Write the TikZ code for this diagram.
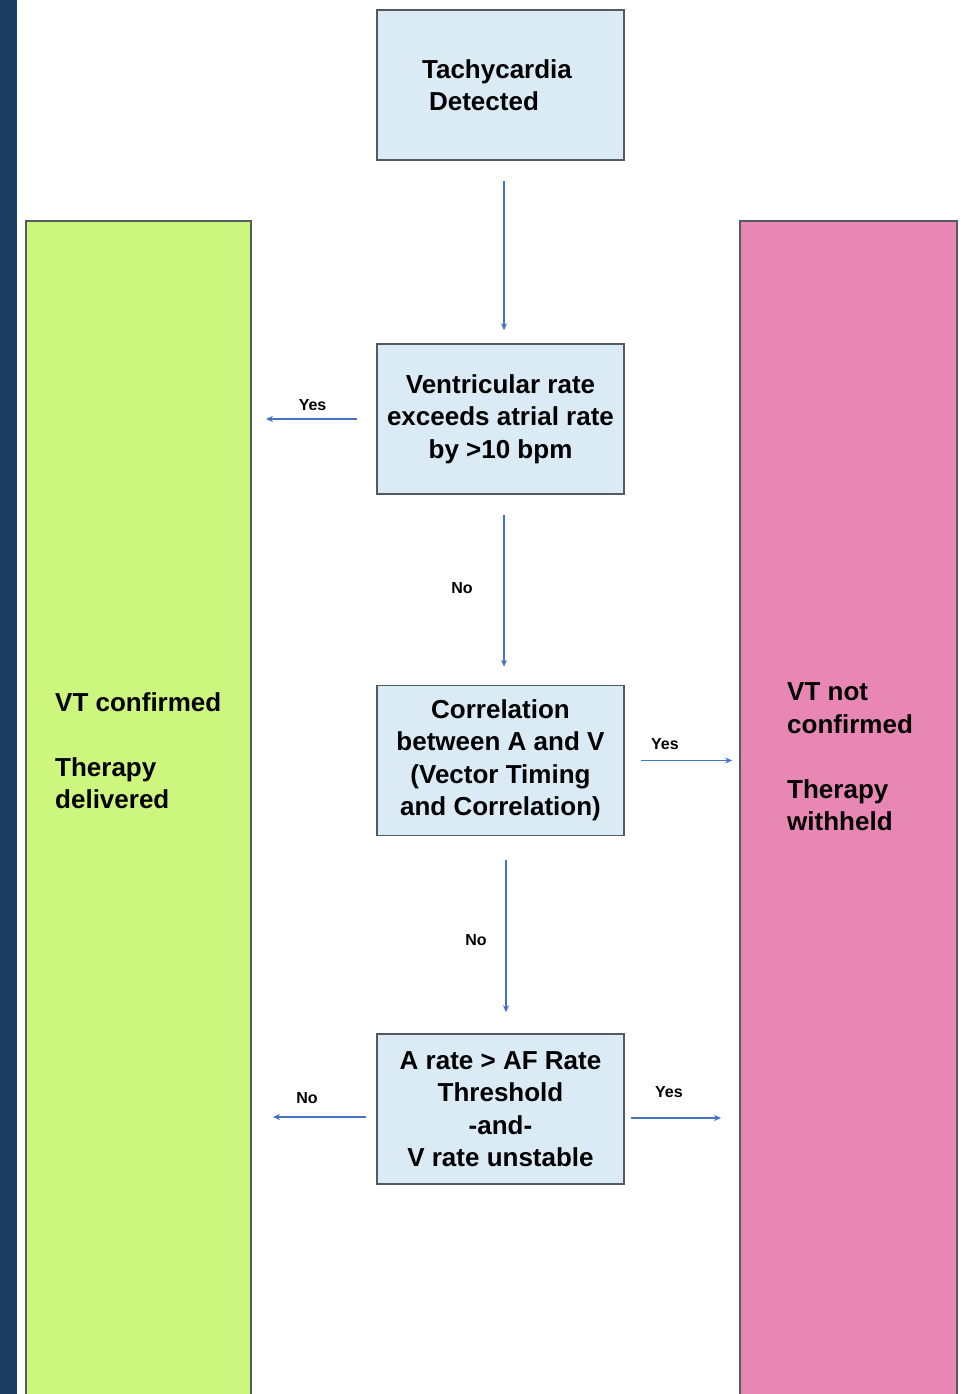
\documentclass[tikz,border=0pt]{standalone}
\usepackage{fontspec}
\setmainfont{Liberation Sans}
\usetikzlibrary{arrows.meta}
\definecolor{boxblue}{RGB}{218,235,246}
\definecolor{boxline}{RGB}{85,90,95}
\definecolor{vtgreen}{RGB}{205,246,127}
\definecolor{vtpink}{RGB}{232,135,180}
\definecolor{strip}{RGB}{26,62,98}
\definecolor{arrblue}{RGB}{68,114,196}
\begin{document}
\begin{tikzpicture}[x=1pt,y=-1pt,
  stepbox/.style={draw=boxline, line width=1.5pt, fill=boxblue, minimum width=247pt,
    minimum height=150pt, inner sep=0pt, align=center,
    font=\bfseries\fontsize{26}{32.5}\selectfont},
  sidebox/.style={draw=boxline, line width=1.8pt, inner sep=0pt},
  sidetext/.style={anchor=west, align=left, inner sep=0pt,
    font=\bfseries\fontsize{26}{32.5}\selectfont},
  arr/.style={draw=arrblue, line width=1.3pt, -{Stealth[length=7pt,width=6pt]}},
  lbl/.style={font=\bfseries\fontsize{16}{18}\selectfont, inner sep=0pt}]
\useasboundingbox (0,0) rectangle (963,1394);
\clip (0,0) rectangle (963,1394);
\fill[white] (0,0) rectangle (963,1394);
\fill[strip] (0,0) rectangle (17,1394);

\node[sidebox, fill=vtgreen, minimum width=225pt, minimum height=1178pt] (conf) at (138.5,810) {};
\node[sidebox, fill=vtpink, minimum width=217pt, minimum height=1178pt] (nconf) at (848.5,810) {};
\node[sidetext] (conft) at (55,750.5) {VT confirmed\\[32.5pt]Therapy\\delivered};
\node[sidetext] (nconft) at (787,757) {VT not\\confirmed\\[32.5pt]Therapy\\withheld};

\node[stepbox] (t) at (500.5,85) {Tachycardia\hspace*{7pt}\\Detected\hspace*{33pt}};
\node[stepbox] (b2) at (500.5,419) {Ventricular rate\\exceeds atrial rate\\by >10 bpm};
\node[stepbox] (b3) at (500.5,760.5) {Correlation\\between A and V\\(Vector Timing\\and Correlation)};
\node[stepbox] (b4) at (500.5,1109) {A rate > AF Rate\\Threshold\\-and-\\V rate unstable};

\draw[arr, shorten <=20pt, shorten >=13pt] ([xshift=3.5pt]t.south) -- ([xshift=3.5pt]b2.north);
\draw[arr, shorten <=20pt, shorten >=18pt] ([xshift=3.5pt]b2.south) -- ([xshift=3.5pt]b3.north)
  node[lbl, midway, xshift=-42pt, yshift=2pt] {No};
\draw[arr, shorten <=24pt, shorten >=21pt] ([xshift=5.5pt]b3.south) -- ([xshift=5.5pt]b4.north)
  node[lbl, midway, xshift=-30pt, yshift=-5pt] {No};

\draw[arr, shorten <=19pt, shorten >=14pt] (b2.west) -- (b2.west -| conf.east)
  node[lbl, midway, xshift=-1.5pt, yshift=14pt] {Yes};
\draw[arr, shorten <=16pt, shorten >=7pt] (b3.east) -- (b3.east -| nconf.west)
  node[lbl, midway, xshift=-17pt, yshift=16pt] {Yes};
\draw[arr, shorten <=10pt, shorten >=21pt] ([yshift=-8pt]b4.west) -- ([yshift=-8pt]b4.west -| conf.east)
  node[lbl, midway, xshift=-7pt, yshift=19pt] {No};
\draw[arr, shorten <=6pt, shorten >=18pt] ([yshift=-9pt]b4.east) -- ([yshift=-9pt]b4.east -| nconf.west)
  node[lbl, midway, xshift=-13pt, yshift=26pt] {Yes};
\end{tikzpicture}
\end{document}
